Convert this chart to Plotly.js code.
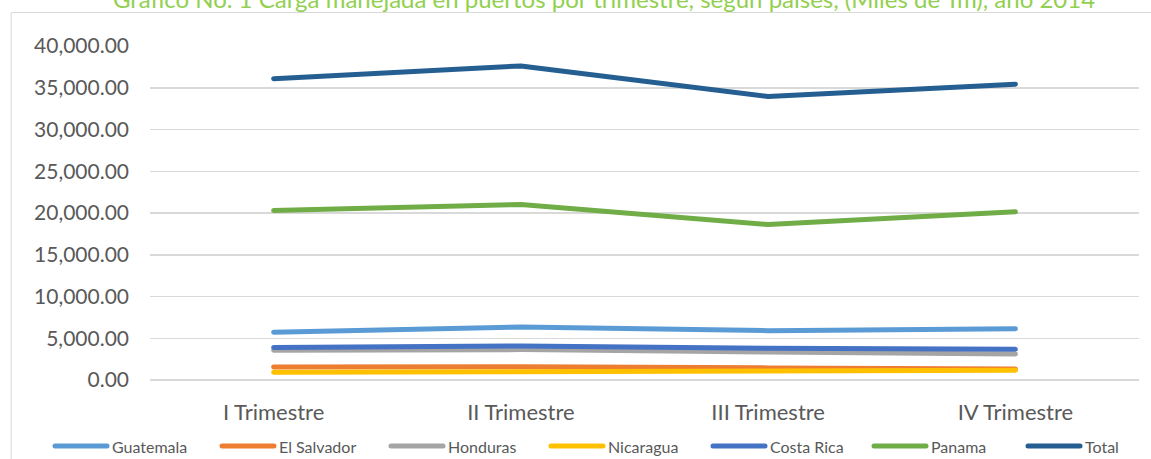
<!DOCTYPE html>
<html><head><meta charset="utf-8">
<script src="https://cdn.plot.ly/plotly-3.0.1.min.js"></script>
<style>
html,body{margin:0;padding:0;background:#fff;}
#chart{width:1151px;height:459px;}
.js-line{stroke-linecap:round;stroke-linejoin:round;}
.shapelayer path{stroke-linecap:round;}
</style>
</head><body>
<div id="chart"></div>
<script>
const quarters = ["I Trimestre", "II Trimestre", "III Trimestre", "IV Trimestre"];
const seriesNames = ["Guatemala", "El Salvador", "Honduras", "Nicaragua", "Costa Rica", "Panama", "Total"];
const guatemala  = [5710, 6350, 5910, 6150];
const elSalvador = [1570, 1600, 1450, 1330];
const honduras   = [3550, 3640, 3360, 3120];
const nicaragua  = [920, 1000, 1000, 1160];
const costaRica  = [3880, 4080, 3790, 3670];
const panama     = [20300, 21020, 18620, 20140];
const total      = [36090, 37610, 33940, 35420];
const titleText = "Gráfico No. 1 Carga manejada en puertos por trimestre, según países, (Miles de Tm), año 2014";

const seriesValues = [guatemala, elSalvador, honduras, nicaragua, costaRica, panama, total];
const colors = ["#5b9bd5", "#ed7d31", "#a5a5a5", "#ffc000", "#4472c4", "#70ad47", "#255e91"];
const legendX = [53, 220, 389, 549, 711, 872, 1026];

const ML = 150, MR = 12, MT = 46, MB = 79, W = 1151, H = 459;
const PW = W - ML - MR, PH = H - MT - MB;
const px2x = px => (px - ML) / PW;
const py2y = py => (H - MB - py) / PH;

const traces = seriesNames.map((n, i) => ({
  type: "scatter", mode: "lines", name: n,
  x: quarters, y: seriesValues[i],
  line: {color: colors[i], width: 5},
  hoverinfo: "x+y+name"
}));

const shapes = [{
  type: "rect", xref: "paper", yref: "paper",
  x0: px2x(11.5), x1: px2x(1165), y0: py2y(470), y1: py2y(12.5),
  line: {color: "#d9d9d9", width: 1}, fillcolor: "rgba(0,0,0,0)", layer: "below"
}];
const annotations = [];
const legY = py2y(446);
seriesNames.forEach((n, i) => {
  shapes.push({type: "line", xref: "paper", yref: "paper",
    x0: px2x(legendX[i] + 2), x1: px2x(legendX[i] + 54), y0: legY, y1: legY,
    line: {color: colors[i], width: 5}});
  annotations.push({xref: "paper", yref: "paper", x: px2x(legendX[i] + 57), y: legY,
    xanchor: "left", yanchor: "middle", showarrow: false, text: n,
    font: {family: "Lato, 'Open Sans', sans-serif", size: 16, color: "#595959"}});
});

const layout = {
  width: W, height: H,
  margin: {l: ML, r: MR, t: MT, b: MB, pad: 0},
  paper_bgcolor: "#ffffff", plot_bgcolor: "#ffffff",
  showlegend: false,
  font: {family: "Lato, 'Open Sans', sans-serif", color: "#595959"},
  title: {text: titleText, x: 604 / W, xanchor: "center", xref: "container",
    y: 1, yref: "container", yanchor: "middle",
    font: {family: "Lato, 'Open Sans', sans-serif", size: 24, color: "#92d050"}},
  xaxis: {type: "category", range: [-0.5, 3.5], showgrid: false, zeroline: false,
    showline: false, ticks: "", tickfont: {size: 22, color: "#595959"}, ticklabelstandoff: 17},
  yaxis: {range: [0, 40000], dtick: 5000, tickformat: ",.2f", showgrid: true,
    gridcolor: "#d9d9d9", gridwidth: 1.5, zeroline: true, zerolinecolor: "#d9d9d9", zerolinewidth: 1.5,
    showline: false, ticks: "", tickfont: {size: 21, color: "#595959"}, ticklabelstandoff: 20},
  shapes: shapes,
  annotations: annotations
};

Plotly.newPlot("chart", traces, layout, {displayModeBar: false, staticPlot: true});
</script>
</body></html>
